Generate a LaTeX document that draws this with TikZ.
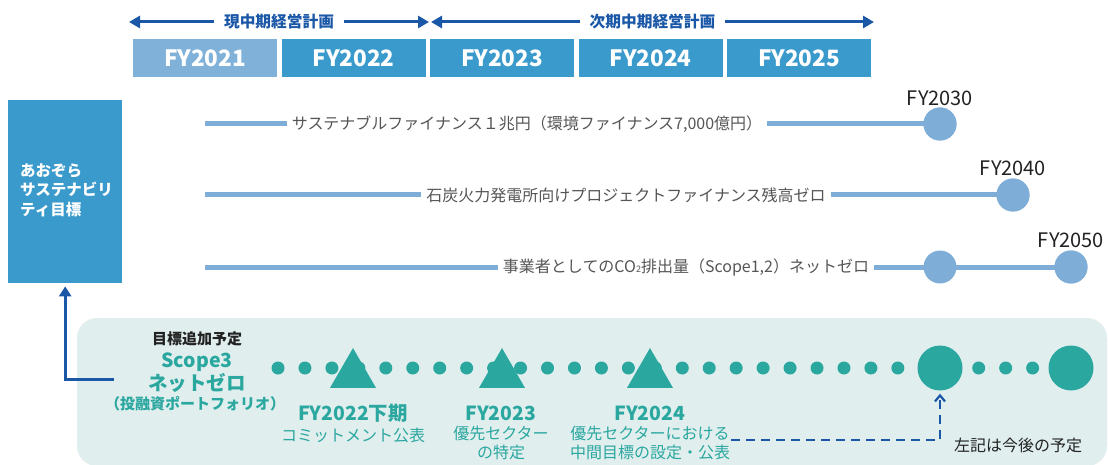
\documentclass[tikz,border=0pt]{standalone}
\usepackage{fontspec}
\setmainfont{Noto Sans CJK JP}
\usetikzlibrary{arrows.meta,shapes.geometric}
\definecolor{boxblue}{HTML}{3A9ACB}
\definecolor{boxlight}{HTML}{80B1D9}
\definecolor{rowblue}{HTML}{7EAED7}
\definecolor{darkblue}{HTML}{1B57A7}
\definecolor{tealc}{HTML}{2AA79F}
\definecolor{panelbg}{HTML}{E0EEEE}
\definecolor{graytxt}{HTML}{555555}
\definecolor{darktxt}{HTML}{222222}
\newcommand\fsz[2]{\fontsize{#1}{#2}\selectfont}
\begin{document}
\begin{tikzpicture}[x=1pt,y=-1pt,
  planarrow/.style={darkblue, line width=3pt, {Triangle[length=11pt,width=12pt]}-{Triangle[length=11pt,width=12pt]}},
  planlabel/.style={fill=white, text=darkblue, font=\fsz{15.7}{18}\bfseries, inner xsep=10pt, inner ysep=2pt},
  yearbox/.style={fill=boxblue, minimum width=144pt, minimum height=38pt, inner sep=0pt, text=white, font=\fsz{22.5}{25}\bfseries},
  rowline/.style={rowblue, line width=5pt},
  rowtxt/.style={text=graytxt, font=\fsz{16}{19}, inner xsep=5pt, inner ysep=0pt},
  rowdot/.style={circle, fill=rowblue, minimum size=33pt, inner sep=0pt},
  yrlabel/.style={text=darktxt, font=\fsz{20}{23}},
  tdot/.style={circle, fill=tealc, minimum size=13pt, inner sep=0pt},
  bigdot/.style={circle, fill=tealc, minimum size=45pt, inner sep=0pt},
  tri/.style={regular polygon, regular polygon sides=3, fill=tealc, minimum size=53.1pt, inner sep=0pt},
  mhead/.style={text=tealc, font=\fsz{19.4}{22}\bfseries, inner sep=0pt},
  msub/.style={text=tealc, font=\fsz{16}{18.5}, inner sep=0pt, align=center},
]
\useasboundingbox (0,0) rectangle (1108,465);

% top plan arrows
\coordinate (p0) at (129,22);
\coordinate (p1) at (429,22);
\coordinate (p2) at (431,22);
\coordinate (p3) at (874,22);
\draw[planarrow] (p0) -- (p1) node[midway, planlabel] (plan1) {現中期経営計画};
\draw[planarrow] (p2) -- (p3) node[midway, planlabel] (plan2) {次期中期経営計画};

% year boxes
\node[yearbox, fill=boxlight, anchor=north west] (fy21) at (133,39) {FY2021};
\node[yearbox, anchor=north west] (fy22) at (281.5,39) {FY2022};
\node[yearbox, anchor=north west] (fy23) at (430,39) {FY2023};
\node[yearbox, anchor=north west] (fy24) at (578.5,39) {FY2024};
\node[yearbox, anchor=north west] (fy25) at (727,39) {FY2025};

% goal box
\node[fill=boxblue, minimum width=114pt, minimum height=183pt, inner sep=0pt, anchor=north west] (goal) at (8,100) {};
\node[text=white, font=\fsz{15.5}{19.5}\bfseries, align=left, anchor=west, inner sep=0pt] (goaltxt) at (20,190) {あおぞら\\サステナビリ\\ティ目標};

% rows
\coordinate (s1) at (205,124);
\node[rowtxt] (t1) at (527,124) {サステナブルファイナンス１兆円（環境ファイナンス7,000億円）};
\node[rowdot] (c1) at (940,124) {};
\draw[rowline] (s1) -- (t1.west);
\draw[rowline] (t1.east) -- (c1.center);
\node[rowdot] at (c1) {};
\node[yrlabel] (y1) at (940,98) {FY2030};

\coordinate (s2) at (205,195);
\node[rowtxt] (t2) at (626,195) {石炭火力発電所向けプロジェクトファイナンス残高ゼロ};
\node[rowdot] (c2) at (1013,195) {};
\draw[rowline] (s2) -- (t2.west);
\draw[rowline] (t2.east) -- (c2.center);
\node[rowdot] at (c2) {};
\node[yrlabel] (y2) at (1013,168) {FY2040};

\coordinate (s3) at (205,267);
\node[rowtxt] (t3) at (686,267) {事業者としてのCO\raisebox{-0.5pt}{\fsz{9}{9}2}排出量（Scope1,2）ネットゼロ};
\node[rowdot] (c3b) at (1071,267) {};
\draw[rowline] (s3) -- (t3.west);
\draw[rowline] (t3.east) -- (c3b.center);
\node[rowdot] (c3a) at (940,267) {};
\node[rowdot] at (c3b) {};
\node[yrlabel] (y3) at (1071,240) {FY2050};

% bottom panel
\fill[panelbg, rounded corners=20pt] (77,318) rectangle (1107,466);

% scope3 label
\node[text=darktxt, font=\fsz{15}{18}\bfseries, inner sep=0pt] (add) at (197,339) {目標追加予定};
\node[text=tealc, font=\fsz{19.5}{22}\bfseries, inner sep=0pt] (sc3) at (197,362) {Scope3};
\node[text=tealc, font=\fsz{19.5}{22}\bfseries, inner sep=0pt] (nz) at (197,383) {ネットゼロ};
\node[text=tealc, font=\fsz{15}{18}\bfseries, inner sep=0pt] (port) at (195,404) {（投融資ポートフォリオ）};

% connector to goal box
\coordinate (scA) at (114,379);
\draw[darkblue, line width=3pt, -{Triangle[length=10pt,width=12pt]}, shorten >=3pt] (scA) -| (goal.south);

% dots
\foreach \k in {0,...,28} \node[tdot] (d\k) at (278+26.95*\k,368) {};
\node[tri] (tri1) at (353,374.6) {};
\node[tri] (tri2) at (502,374.6) {};
\node[tri] (tri3) at (650,374.6) {};
\node[bigdot] (big1) at (940,368) {};
\node[bigdot] (big2) at (1071,368) {};

% milestone labels
\node[mhead] (m1) at (353,413) {FY2022下期};
\node[msub] (m1s) at (353,435) {コミットメント公表};
\node[mhead] (m2) at (501,413) {FY2023};
\node[msub, anchor=north] (m2s) at (501,426) {優先セクター\\の特定};
\node[mhead] (m3) at (650,413) {FY2024};
\node[msub, anchor=north] (m3s) at (650,426) {優先セクターにおける\\中間目標の設定・公表};

% dashed arrow
\coordinate (dstart) at (731,440);
\draw[darkblue, line width=2.2pt, dash pattern=on 9pt off 6pt, -{Straight Barb[length=6pt,width=10pt]}] (dstart) -| ([yshift=-3pt]big1.south);
\node[text=darktxt, font=\fsz{16}{19}, inner sep=0pt] (note) at (1018,445) {左記は今後の予定};
\end{tikzpicture}
\end{document}
